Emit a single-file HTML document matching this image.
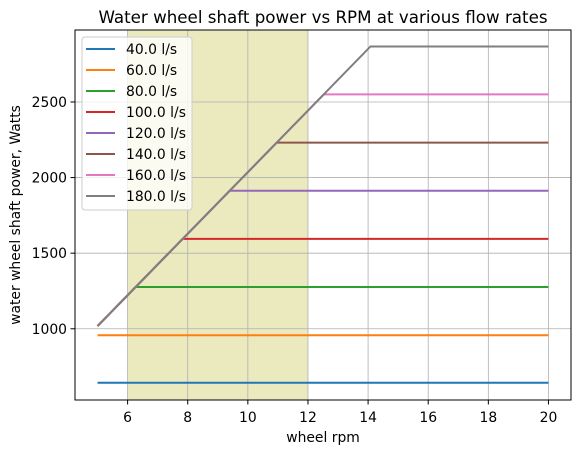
<!DOCTYPE html>
<html><head><meta charset="utf-8"><style>
body{margin:0;background:#fff;font-family:"Liberation Sans","DejaVu Sans",sans-serif}
svg text{font-family:"DejaVu Sans","Liberation Sans",sans-serif}
</style></head><body>
<svg id="chart" width="580" height="453" viewBox="0 0 580 453">
<text x="323" y="23" text-anchor="middle" font-size="16.7">Water wheel shaft power vs RPM at various flow rates</text>
<g id="bg"></g><g id="grid"></g><g id="series"></g>
<rect x="75" y="30" width="496" height="370" fill="none" stroke="#000" stroke-width="1"/>
<g id="axes"></g>
<text x="323" y="442" text-anchor="middle" font-size="13.9">wheel rpm</text>
<text transform="translate(20,215) rotate(-90)" text-anchor="middle" font-size="13.9">water wheel shaft power, Watts</text>
<g id="legend"></g>
</svg>
<script>
const labels=["40.0 l/s","60.0 l/s","80.0 l/s","100.0 l/s","120.0 l/s","140.0 l/s","160.0 l/s","180.0 l/s"];
const colors=["#1f77b4","#ff7f0e","#2ca02c","#d62728","#9467bd","#8c564b","#e377c2","#7f7f7f"];
const rpmStart=[5,5,5,5,5,5,5,5];
const rpmKnee=[5,5,6.26,7.83,9.4,10.96,12.53,14.08];
const rpmEnd=[20,20,20,20,20,20,20,20];
const powerStart=[643,957,1018,1018,1018,1018,1018,1018];
const powerCap=[643,957,1276,1595,1913,2231,2550,2867];
const shadeRange=[6,12];
const xTicks=[6,8,10,12,14,16,18,20];
const yTicks=[1000,1500,2000,2500];
const NS="http://www.w3.org/2000/svg";
const X=v=>75+(v-4.25)*(496/16.5);
const Y=v=>400-(v-529)*(370/2447);
function mk(p,t,a){const e=document.createElementNS(NS,t);for(const k in a)e.setAttribute(k,a[k]);document.getElementById(p).appendChild(e);return e;}
let r=mk('bg','rect',{x:X(shadeRange[0]),y:30,width:X(shadeRange[1])-X(shadeRange[0]),height:370,fill:"#bdbb2a",'fill-opacity':0.3});


xTicks.forEach(t=>{
 let g=mk('grid','line',{x1:X(t),x2:X(t),y1:30,y2:400,stroke:"#b0b0b0","stroke-width":0.8});
 
 
 mk('axes','line',{x1:X(t),x2:X(t),y1:400,y2:404.5,stroke:"#000"});
 let tx=mk('axes','text',{x:X(t),y:422,"text-anchor":"middle","font-size":13.9});tx.textContent=t;
 
 
});
yTicks.forEach(t=>{
 let g=mk('grid','line',{x1:75,x2:571,y1:Y(t),y2:Y(t),stroke:"#b0b0b0","stroke-width":0.8});
 
 
 mk('axes','line',{x1:70.5,x2:75,y1:Y(t),y2:Y(t),stroke:"#000"});
 let tx=mk('axes','text',{x:67,y:Y(t)+5,"text-anchor":"end","font-size":13.9});tx.textContent=t;
 
 
});
labels.forEach((l,i)=>{
 const pts=[[rpmStart[i],powerStart[i]],[rpmKnee[i],powerCap[i]],[rpmEnd[i],powerCap[i]]];
 let p=mk('series','polyline',{points:pts.map(q=>X(q[0])+","+Y(q[1])).join(" "),fill:"none",stroke:colors[i],"stroke-width":2});
 
 
});
let lb=mk('legend','rect',{x:82,y:37,width:110,height:173,rx:3,fill:"#fff","fill-opacity":0.8,stroke:"#ccc"});


labels.forEach((l,i)=>{
 const y=49+i*21;
 mk('legend','line',{x1:86,x2:115,y1:y,y2:y,stroke:colors[i],"stroke-width":2});
 let t=mk('legend','text',{x:126,y:y+5,"font-size":13.9});t.textContent=l;
 
 
});
</script>
</body></html>
